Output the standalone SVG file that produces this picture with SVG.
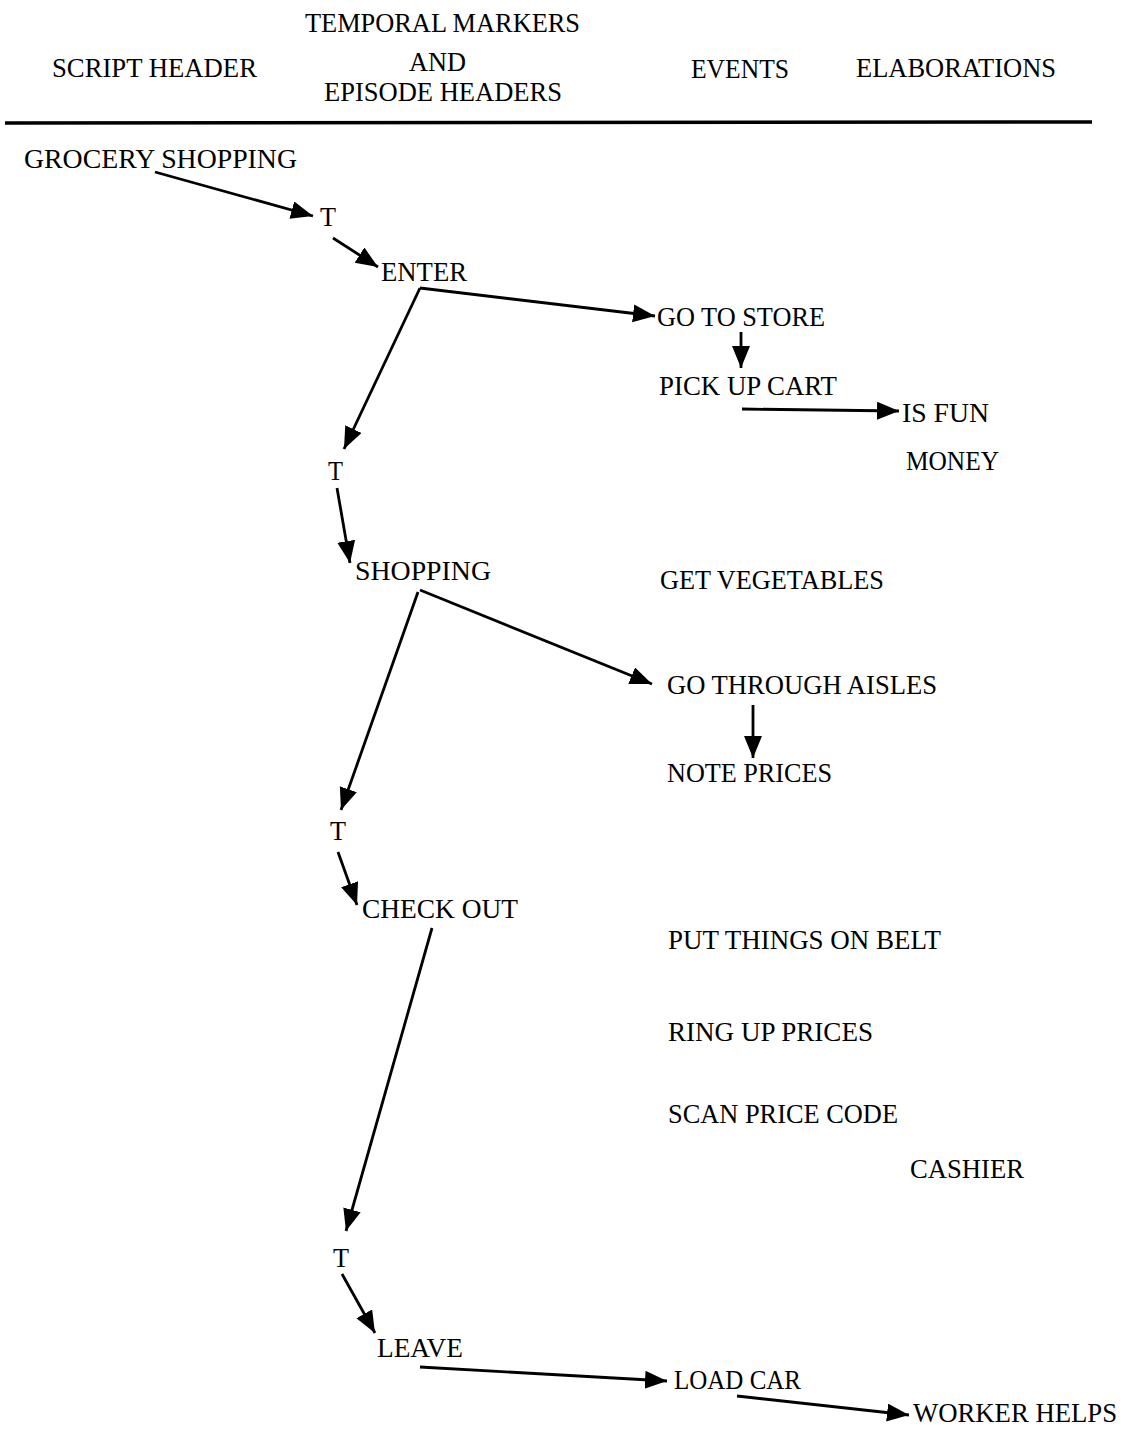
<svg xmlns="http://www.w3.org/2000/svg" width="1125" height="1431" viewBox="0 0 1125 1431">
<style>
text{font-family:"Liberation Serif","Times New Roman",serif;font-size:28px;fill:#000}
.c{stroke:#000;stroke-width:2.8;fill:none;marker-end:url(#ah)}
</style>
<defs>
<marker id="ah" markerUnits="userSpaceOnUse" markerWidth="24" markerHeight="20" refX="22" refY="9" orient="auto">
<path d="M0,0 L22,9 L0,18 z" fill="#000"/>
</marker>
</defs>
<rect width="1125" height="1431" fill="#fff"/>
<g id="header">
<text x="305" y="32" textLength="275" lengthAdjust="spacingAndGlyphs">TEMPORAL MARKERS</text>
<text x="52" y="77" textLength="205" lengthAdjust="spacingAndGlyphs">SCRIPT HEADER</text>
<text x="409" y="71" textLength="57" lengthAdjust="spacingAndGlyphs">AND</text>
<text x="324" y="101" textLength="238" lengthAdjust="spacingAndGlyphs">EPISODE HEADERS</text>
<text x="691" y="78" textLength="98" lengthAdjust="spacingAndGlyphs">EVENTS</text>
<text x="856" y="77" textLength="200" lengthAdjust="spacingAndGlyphs">ELABORATIONS</text>
<line x1="5" y1="123" x2="1092" y2="122" stroke="#000" stroke-width="3.5"/>
</g>
<g id="grocery-shopping"><text x="24" y="168" textLength="273" lengthAdjust="spacingAndGlyphs">GROCERY SHOPPING</text></g>
<g id="t1"><text x="320" y="226" textLength="16" lengthAdjust="spacingAndGlyphs">T</text></g>
<g id="enter"><text x="381" y="281" textLength="86" lengthAdjust="spacingAndGlyphs">ENTER</text></g>
<g id="go-to-store"><text x="657" y="326" textLength="168" lengthAdjust="spacingAndGlyphs">GO TO STORE</text></g>
<g id="pick-up-cart"><text x="659" y="395" textLength="178" lengthAdjust="spacingAndGlyphs">PICK UP CART</text></g>
<g id="is-fun"><text x="902" y="422" textLength="87" lengthAdjust="spacingAndGlyphs">IS FUN</text></g>
<g id="money"><text x="906" y="470" textLength="93" lengthAdjust="spacingAndGlyphs">MONEY</text></g>
<g id="t2"><text x="328" y="480" textLength="15" lengthAdjust="spacingAndGlyphs">T</text></g>
<g id="shopping"><text x="355" y="580" textLength="136" lengthAdjust="spacingAndGlyphs">SHOPPING</text></g>
<g id="get-vegetables"><text x="660" y="589" textLength="224" lengthAdjust="spacingAndGlyphs">GET VEGETABLES</text></g>
<g id="go-through-aisles"><text x="667" y="694" textLength="270" lengthAdjust="spacingAndGlyphs">GO THROUGH AISLES</text></g>
<g id="note-prices"><text x="667" y="782" textLength="165" lengthAdjust="spacingAndGlyphs">NOTE PRICES</text></g>
<g id="t3"><text x="330" y="840" textLength="16" lengthAdjust="spacingAndGlyphs">T</text></g>
<g id="check-out"><text x="362" y="918" textLength="156" lengthAdjust="spacingAndGlyphs">CHECK OUT</text></g>
<g id="put-things-on-belt"><text x="668" y="949" textLength="273" lengthAdjust="spacingAndGlyphs">PUT THINGS ON BELT</text></g>
<g id="ring-up-prices"><text x="668" y="1041" textLength="205" lengthAdjust="spacingAndGlyphs">RING UP PRICES</text></g>
<g id="scan-price-code"><text x="668" y="1123" textLength="230" lengthAdjust="spacingAndGlyphs">SCAN PRICE CODE</text></g>
<g id="cashier"><text x="910" y="1178" textLength="114" lengthAdjust="spacingAndGlyphs">CASHIER</text></g>
<g id="t4"><text x="333" y="1267" textLength="16" lengthAdjust="spacingAndGlyphs">T</text></g>
<g id="leave"><text x="377" y="1357" textLength="86" lengthAdjust="spacingAndGlyphs">LEAVE</text></g>
<g id="load-car"><text x="674" y="1389" textLength="127" lengthAdjust="spacingAndGlyphs">LOAD CAR</text></g>
<g id="worker-helps"><text x="913" y="1422" font-size="25" textLength="204" lengthAdjust="spacingAndGlyphs">WORKER HELPS</text></g>
<g id="connectors">
<line class="c" x1="155" y1="172" x2="313" y2="216"/>
<line class="c" x1="333" y1="238" x2="378" y2="267"/>
<line class="c" x1="420" y1="288" x2="655" y2="316"/>
<line class="c" x1="420" y1="288" x2="344" y2="449"/>
<line class="c" x1="741" y1="332" x2="741" y2="368"/>
<line class="c" x1="742" y1="409" x2="899" y2="411"/>
<line class="c" x1="337" y1="488" x2="350" y2="563"/>
<line class="c" x1="420" y1="590" x2="652" y2="684"/>
<line class="c" x1="418" y1="592" x2="341" y2="810"/>
<line class="c" x1="753" y1="705" x2="753" y2="758"/>
<line class="c" x1="338" y1="852" x2="357" y2="905"/>
<line class="c" x1="432" y1="928" x2="346" y2="1231"/>
<line class="c" x1="342" y1="1274" x2="375" y2="1333"/>
<line class="c" x1="420" y1="1367" x2="667" y2="1381"/>
<line class="c" x1="737" y1="1396" x2="909" y2="1415"/>
</g>
</svg>
